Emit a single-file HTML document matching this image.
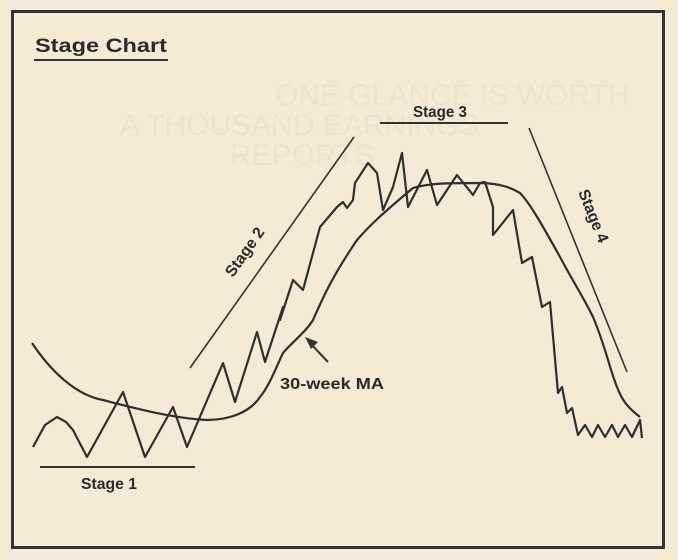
<!DOCTYPE html>
<html><head><style>
html,body{margin:0;padding:0;background:#f4ead6;}
svg{display:block}
.t{font-family:"Liberation Sans",Arial,Helvetica,sans-serif;font-weight:bold;fill:#2a2a2a}
</style></head><body>
<svg width="678" height="560" viewBox="0 0 678 560">
<rect width="678" height="560" fill="#f4ead6"/>
<g font-family="Liberation Sans, sans-serif" font-size="30" fill="#ece2ce">
<text x="275" y="105">ONE GLANCE IS WORTH</text>
<text x="120" y="135">A THOUSAND EARNINGS</text>
<text x="230" y="165">REPORTS</text>
</g>
<rect x="12.5" y="11.5" width="651" height="536" fill="none" stroke="#333" stroke-width="3"/>
<text class="t" x="35" y="52" font-size="19" textLength="132" lengthAdjust="spacingAndGlyphs">Stage Chart</text>
<line x1="34" y1="60" x2="168" y2="60" stroke="#333" stroke-width="2"/>
<g fill="none" stroke="#2f2f2f" stroke-width="2.2" stroke-linejoin="round">
<polyline points="33,447 45,425 57,417 66,422 73,430 87,457 123,392 145,457 173,407 187,447 223,363 235,402 257,332 265,362 283,307 280,320 293,280 303,290 320,227 337,207 343,202 347,208 353,200 355,183 368,163 377,173 383,210 393,187 402,153 408,207 427,170 437,205 457,175 473,195 480,183 485,182 493,207 493,235 513,210 522,263 532,257 542,307 550,302 558,393 562,387 567,413 572,408 578,435 585,425 592,437 598,425 605,437 612,425 618,437 625,425 632,437 640,420 642,438"/>
<path d="M32,343 C50,370 75,395 103,400 C130,407 170,418 207,420 C230,420 250,412 260,397 C270,385 277,365 283,353 C292,342 305,333 313,320 C322,300 330,280 357,240 C370,225 383,213 413,188 C430,183 447,183 483,183 C500,184 510,187 520,193 C530,203 545,230 560,257 C575,285 585,300 593,317 C605,345 610,370 617,387 C622,400 627,407 640,417"/>
</g>
<g stroke="#333" stroke-width="1.6">
<line x1="190" y1="368" x2="354" y2="137"/>
<line x1="529" y1="128" x2="627" y2="372"/>
<line x1="380" y1="123" x2="508" y2="123" stroke-width="2"/>
<line x1="40" y1="467" x2="195" y2="467" stroke-width="2"/>
<line x1="328" y1="362" x2="310" y2="343" stroke-width="2"/>
</g>
<polygon points="305,337 318,342 311,349" fill="#333"/>
<text class="t" x="413" y="117" font-size="16" textLength="54" lengthAdjust="spacingAndGlyphs">Stage 3</text>
<text class="t" x="81" y="489" font-size="16" textLength="56" lengthAdjust="spacingAndGlyphs">Stage 1</text>
<text class="t" x="280" y="389" font-size="16" textLength="104" lengthAdjust="spacingAndGlyphs">30-week MA</text>
<text class="t" transform="translate(233,278) rotate(-55)" font-size="16" textLength="56" lengthAdjust="spacingAndGlyphs">Stage 2</text>
<text class="t" transform="translate(578,192) rotate(68)" font-size="16" textLength="56" lengthAdjust="spacingAndGlyphs">Stage 4</text>
</svg>
</body></html>
